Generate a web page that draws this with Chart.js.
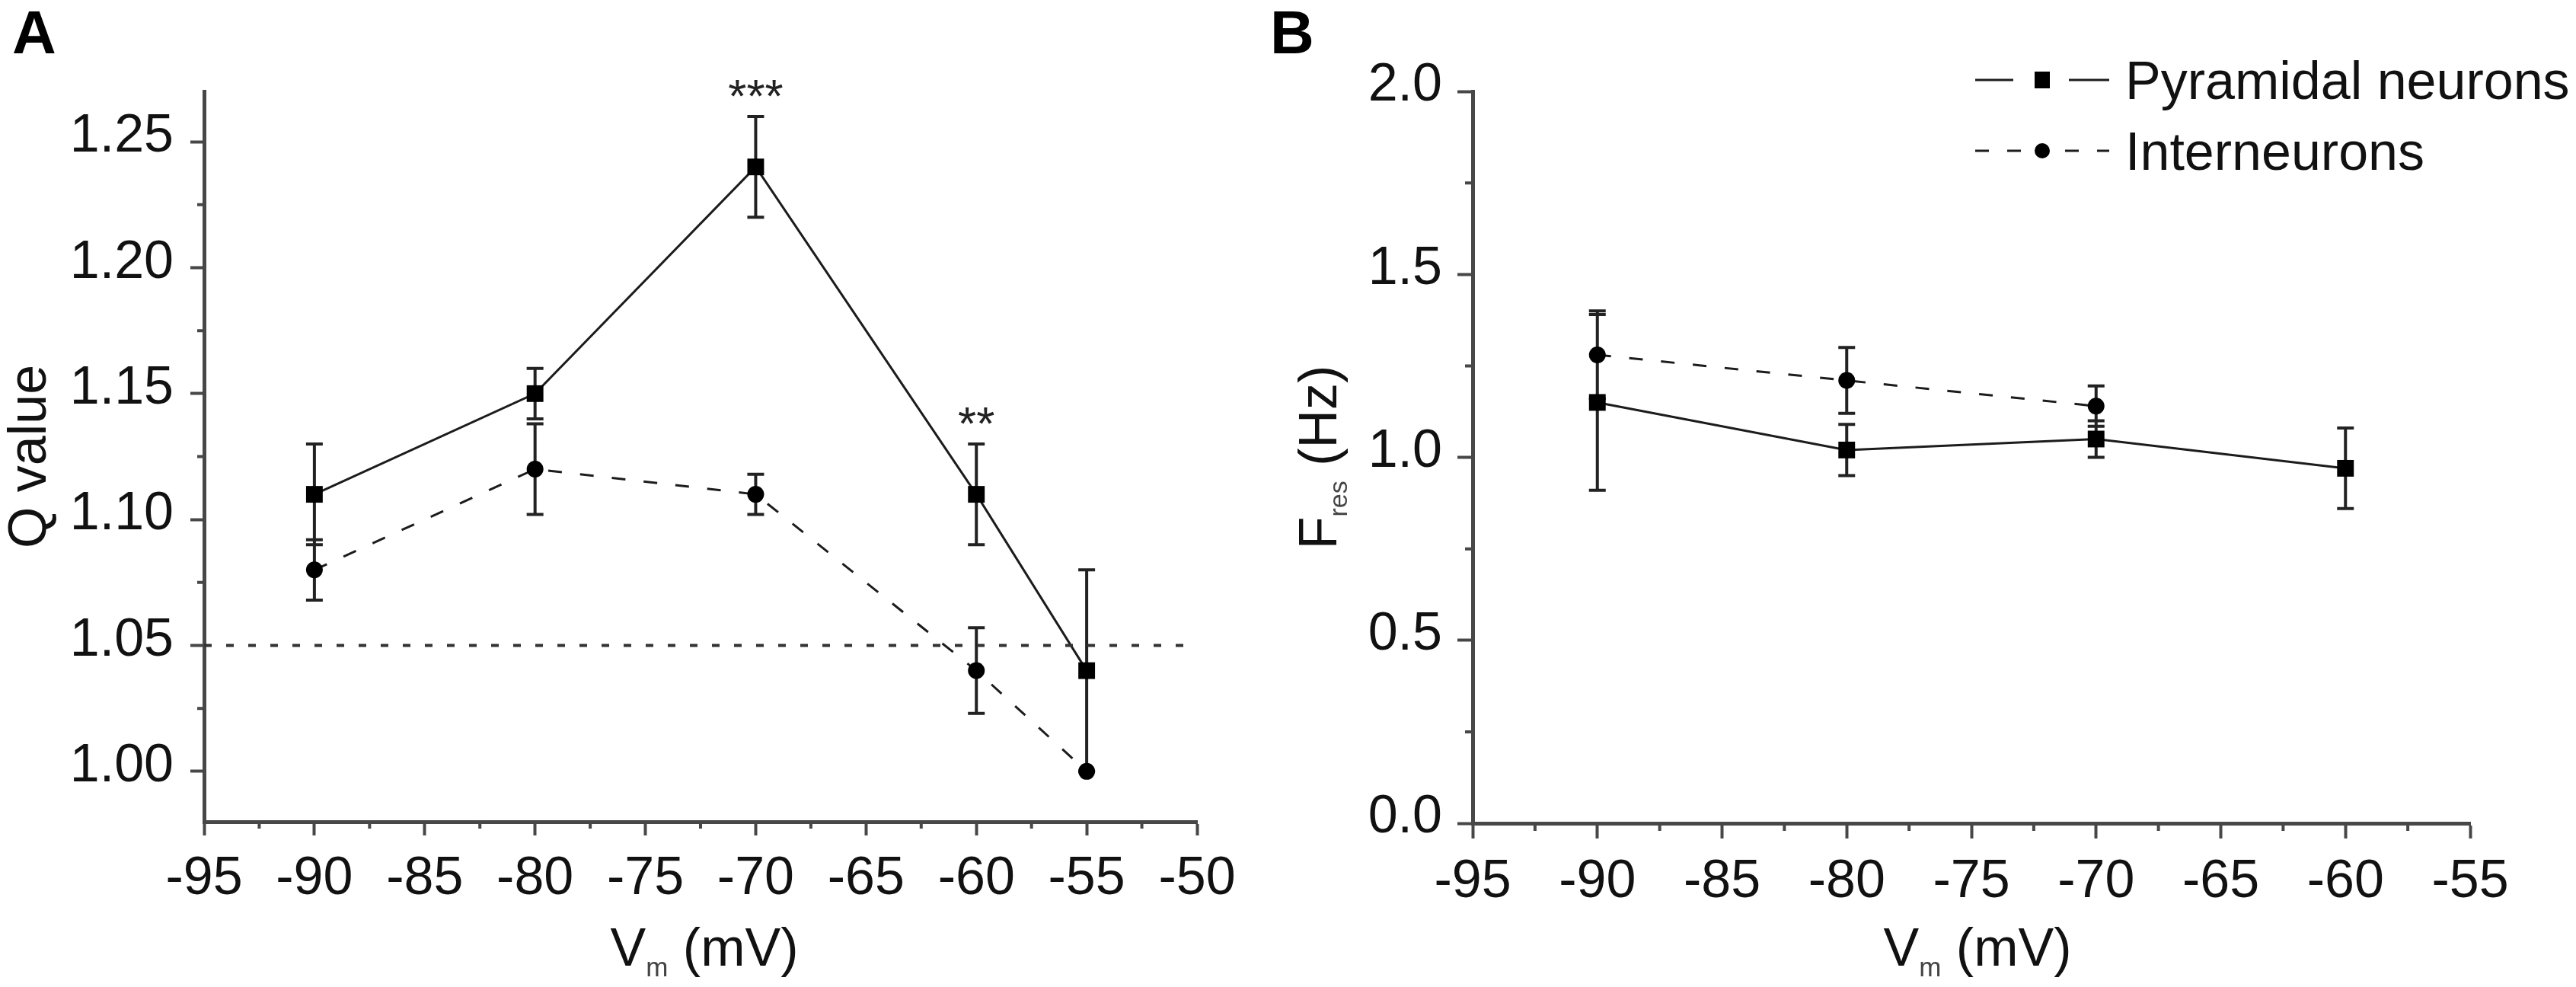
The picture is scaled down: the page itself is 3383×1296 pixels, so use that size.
<!DOCTYPE html>
<html>
<head>
<meta charset="utf-8">
<script src="https://cdn.jsdelivr.net/npm/chart.js@4.4.1/dist/chart.umd.min.js"></script>
<style>
  html, body { margin: 0; padding: 0; background: #fff; width: 3383px; height: 1296px; overflow: hidden; }
  #pa { position: absolute; left: 0; top: 0; width: 1660px; height: 1296px; }
  #pb { position: absolute; left: 1660px; top: 0; width: 1723px; height: 1296px; }
</style>
</head>
<body>
<div id="pa"><canvas id="ca"></canvas></div>
<div id="pb"><canvas id="cb"></canvas></div>
<script>
// ---------------- DATA ----------------
// Panel A : Q value vs membrane potential
const vmA        = [-90, -80, -70, -60, -55];
const qPyr       = [1.11, 1.15, 1.24, 1.11, 1.04];
const qPyrErr    = [0.02, 0.01, 0.02, 0.02, 0.04];
const qInt       = [1.08, 1.12, 1.11, 1.04, 1.00];
const qIntErr    = [0.012, 0.018, 0.008, 0.017, 0];
const qThreshold = 1.05;
const sigX       = [-70, -60];
const sigLabels  = ['***', '**'];

// Panel B : resonance frequency vs membrane potential
const vmBPyr     = [-90, -80, -70, -60];
const fPyr       = [1.15, 1.02, 1.05, 0.97];
const fPyrErr    = [0.24, 0.07, 0.05, 0.11];
const vmBInt     = [-90, -80, -70];
const fInt       = [1.28, 1.21, 1.14];
const fIntErr    = [0.12, 0.09, 0.055];

// Tick labels
const xTicksA = [-95, -90, -85, -80, -75, -70, -65, -60, -55, -50];
const yTicksA = [1.00, 1.05, 1.10, 1.15, 1.20, 1.25];
const xTicksB = [-95, -90, -85, -80, -75, -70, -65, -60, -55];
const yTicksB = [0.0, 0.5, 1.0, 1.5, 2.0];

const seriesNames = ['Pyramidal neurons', 'Interneurons'];

// ---------------- STYLE ----------------
const FONT = "'Liberation Sans', Arial, Helvetica, sans-serif";
const INK = '#111111';
const AXIS = '#474747';
const LINE = '#1c1c1c';
const DASH = [18, 24];

function pts(xs, ys) { return xs.map((x, i) => ({ x: x, y: ys[i] })); }
function mids(t) { const m = []; for (let i = 0; i < t.length - 1; i++) m.push((t[i] + t[i + 1]) / 2); return m; }

// error bars
const errPlugin = {
  id: 'errbars',
  beforeDatasetsDraw(chart, args, o) {
    const ctx = chart.ctx, xs = chart.scales.x, ys = chart.scales.y;
    ctx.save();
    ctx.strokeStyle = o.color; ctx.lineWidth = o.width; ctx.lineCap = 'butt';
    ctx.beginPath();
    o.sets.forEach(s => {
      s.x.forEach((xv, i) => {
        const e = s.err[i]; if (!e) return;
        const px = xs.getPixelForValue(xv);
        const pt = ys.getPixelForValue(s.y[i] + e), pb = ys.getPixelForValue(s.y[i] - e);
        ctx.moveTo(px, pt); ctx.lineTo(px, pb);
        ctx.moveTo(px - o.cap, pt); ctx.lineTo(px + o.cap, pt);
        ctx.moveTo(px - o.cap, pb); ctx.lineTo(px + o.cap, pb);
      });
    });
    ctx.stroke();
    ctx.restore();
  }
};

// minor ticks
const minorPlugin = {
  id: 'minor',
  afterDraw(chart, args, o) {
    const ctx = chart.ctx, ca = chart.chartArea, xs = chart.scales.x, ys = chart.scales.y;
    ctx.save();
    ctx.strokeStyle = o.color; ctx.lineWidth = o.width;
    ctx.beginPath();
    o.x.forEach(v => { const p = xs.getPixelForValue(v); ctx.moveTo(p, ca.bottom); ctx.lineTo(p, ca.bottom + o.len); });
    o.y.forEach(v => { if (v < ys.min || v > ys.max) return; const p = ys.getPixelForValue(v); ctx.moveTo(ca.left, p); ctx.lineTo(ca.left - o.len, p); });
    ctx.stroke();
    ctx.restore();
  }
};

function richWidth(ctx, parts) {
  let w = 0;
  parts.forEach(p => { ctx.font = (p.bold ? 'bold ' : '') + p.size + 'px ' + FONT; w += ctx.measureText(p.t).width; });
  return w;
}
function drawRich(ctx, parts, x0, y0) {
  let x = x0;
  parts.forEach(p => {
    ctx.font = (p.bold ? 'bold ' : '') + p.size + 'px ' + FONT;
    ctx.fillStyle = p.color || INK;
    ctx.fillText(p.t, x, y0 + (p.dy || 0));
    x += ctx.measureText(p.t).width;
  });
}

// titles, labels, legend, significance
const decorPlugin = {
  id: 'decor',
  afterDraw(chart, args, o) {
    const ctx = chart.ctx, ca = chart.chartArea, xs = chart.scales.x, ys = chart.scales.y;
    ctx.save();
    ctx.textBaseline = 'alphabetic'; ctx.textAlign = 'left';
    // panel letter
    ctx.font = 'bold 80px ' + FONT; ctx.fillStyle = '#000';
    ctx.fillText(o.panel.text, o.panel.x, o.panel.y);
    // x title
    const wx = richWidth(ctx, o.xTitle.parts);
    drawRich(ctx, o.xTitle.parts, (ca.left + ca.right) / 2 + o.xTitle.dx - wx / 2, o.xTitle.y);
    // y title (rotated)
    const wy = richWidth(ctx, o.yTitle.parts);
    ctx.save();
    ctx.translate(o.yTitle.x, (ca.top + ca.bottom) / 2);
    ctx.rotate(-Math.PI / 2);
    drawRich(ctx, o.yTitle.parts, -wy / 2, 0);
    ctx.restore();
    // significance marks
    if (o.sig) {
      ctx.font = '62px ' + FONT; ctx.fillStyle = '#222'; ctx.textAlign = 'center';
      o.sig.x.forEach((xv, k) => {
        const i = o.sig.refX.indexOf(xv);
        const top = ys.getPixelForValue(o.sig.refY[i] + o.sig.refErr[i]);
        ctx.fillText(o.sig.labels[k], xs.getPixelForValue(xv), top - 6);
      });
      ctx.textAlign = 'left';
    }
    // legend
    if (o.legend) {
      const L = o.legend;
      L.rows.forEach((r, k) => {
        const base = L.y0 + k * L.dy;
        const cy = base - 25;
        const ds = chart.data.datasets[r.ds];
        ctx.strokeStyle = ds.borderColor; ctx.lineWidth = ds.borderWidth;
        ctx.setLineDash(ds.borderDash || []);
        ctx.beginPath();
        ctx.moveTo(L.x0, cy); ctx.lineTo(L.mx - r.gapL, cy);
        ctx.stroke();
        ctx.beginPath();
        ctx.moveTo(L.mx + r.gapR, cy); ctx.lineTo(L.x1, cy);
        ctx.stroke();
        ctx.setLineDash([]);
        ctx.fillStyle = '#000';
        ctx.beginPath();
        if (ds.pointStyle === 'rect') ctx.rect(L.mx - 10, cy - 11, 20, 22);
        else ctx.arc(L.mx, cy, 10, 0, Math.PI * 2);
        ctx.fill();
        ctx.font = '70px ' + FONT; ctx.fillStyle = INK;
        ctx.fillText(ds.label, L.tx, base);
      });
    }
    ctx.restore();
  }
};

function axisOpts(ticks, min, max, fmt, extra) {
  return Object.assign({
    type: 'linear', min: min, max: max,
    afterBuildTicks: (s) => { s.ticks = ticks.map(v => ({ value: v })); },
    border: { display: true, color: AXIS, width: 5 },
    grid: { display: true, drawOnChartArea: false, drawTicks: true, tickLength: 18, tickWidth: 4, tickColor: AXIS, color: AXIS },
    ticks: { color: INK, font: { family: FONT, size: 70 }, callback: fmt, autoSkip: false, maxRotation: 0, minRotation: 0 }
  }, extra || {});
}

function lineDs(label, xs, ys, style) {
  return Object.assign({
    label: label,
    data: pts(xs, ys),
    showLine: true,
    borderColor: LINE,
    backgroundColor: '#000',
    pointBackgroundColor: '#000',
    pointBorderColor: '#000',
    pointBorderWidth: 0,
    borderWidth: 3,
    tension: 0
  }, style);
}

const common = {
  responsive: true, maintainAspectRatio: false, animation: false, devicePixelRatio: 1,
  events: []
};

// ---------------- PANEL A ----------------
const xA = axisOpts(xTicksA, -95, -50, v => String(v), {
  afterFit: s => { s.height = 217; }
});
xA.ticks.padding = 16;
const yA = axisOpts(yTicksA, 0.98, 1.27, v => Number(v).toFixed(2), {
  afterFit: s => { s.width = 268; }
});
yA.ticks.padding = 22; yA.ticks.labelOffset = -6;

new Chart(document.getElementById('ca'), {
  type: 'scatter',
  data: {
    datasets: [
      lineDs('threshold', [-95, -50], [qThreshold, qThreshold], { borderDash: [10, 19], borderWidth: 4, pointRadius: 0, borderColor: '#333' }),
      lineDs(seriesNames[1], vmA, qInt, { borderDash: DASH, pointStyle: 'circle', pointRadius: 11 }),
      lineDs(seriesNames[0], vmA, qPyr, { pointStyle: 'rect', pointRadius: 15.5 })
    ]
  },
  options: Object.assign({}, common, {
    layout: { padding: { left: 0, right: 88, top: 120, bottom: 0 } },
    scales: { x: xA, y: yA },
    plugins: {
      legend: { display: false }, tooltip: { enabled: false },
      errbars: { color: '#222', width: 4, cap: 11, sets: [
        { x: vmA, y: qPyr, err: qPyrErr },
        { x: vmA, y: qInt, err: qIntErr }
      ] },
      minor: { color: AXIS, width: 4, len: 9, x: mids(xTicksA), y: mids(yTicksA) },
      decor: {
        panel: { text: 'A', x: 16, y: 70 },
        xTitle: { dx: 5, y: 1268, parts: [ { t: 'V', size: 70 }, { t: 'm', size: 35, dy: 14, color: '#444' }, { t: ' (mV)', size: 70 } ] },
        yTitle: { x: 60, parts: [ { t: 'Q value', size: 70 } ] },
        sig: { x: sigX, labels: sigLabels, refX: vmA, refY: qPyr, refErr: qPyrErr }
      }
    }
  }),
  plugins: [errPlugin, minorPlugin, decorPlugin]
});

// ---------------- PANEL B ----------------
const xB = axisOpts(xTicksB, -95, -55, v => String(v), {
  afterFit: s => { s.height = 215; }
});
xB.ticks.padding = 16;
xB.grid.tickLength = 20;
const yB = axisOpts(yTicksB, 0, 2.0, v => Number(v).toFixed(1), {
  afterFit: s => { s.width = 274; }
});
yB.ticks.padding = 20; yB.ticks.labelOffset = -7; yB.grid.tickLength = 20;

new Chart(document.getElementById('cb'), {
  type: 'scatter',
  data: {
    datasets: [
      lineDs(seriesNames[0], vmBPyr, fPyr, { pointStyle: 'rect', pointRadius: 15.5 }),
      lineDs(seriesNames[1], vmBInt, fInt, { borderDash: DASH, pointStyle: 'circle', pointRadius: 11 })
    ]
  },
  options: Object.assign({}, common, {
    layout: { padding: { left: 0, right: 139, top: 120, bottom: 0 } },
    scales: { x: xB, y: yB },
    plugins: {
      legend: { display: false }, tooltip: { enabled: false },
      errbars: { color: '#222', width: 4, cap: 11, sets: [
        { x: vmBPyr, y: fPyr, err: fPyrErr },
        { x: vmBInt, y: fInt, err: fIntErr }
      ] },
      minor: { color: AXIS, width: 4, len: 10, x: mids(xTicksB), y: mids(yTicksB) },
      decor: {
        panel: { text: 'B', x: 8, y: 70 },
        xTitle: { dx: 8, y: 1268, parts: [ { t: 'V', size: 70 }, { t: 'm', size: 35, dy: 14, color: '#444' }, { t: ' (mV)', size: 70 } ] },
        yTitle: { x: 95, parts: [ { t: 'F', size: 70 }, { t: 'res', size: 34, dy: 14, color: '#444' }, { t: ' (Hz)', size: 70 } ] },
        legend: { x0: 934, x1: 1110, mx: 1022, tx: 1131, y0: 130, dy: 93, rows: [
          { ds: 0, gapL: 38, gapR: 35 },
          { ds: 1, gapL: 22, gapR: 30 }
        ] }
      }
    }
  }),
  plugins: [errPlugin, minorPlugin, decorPlugin]
});
</script>
</body>
</html>
